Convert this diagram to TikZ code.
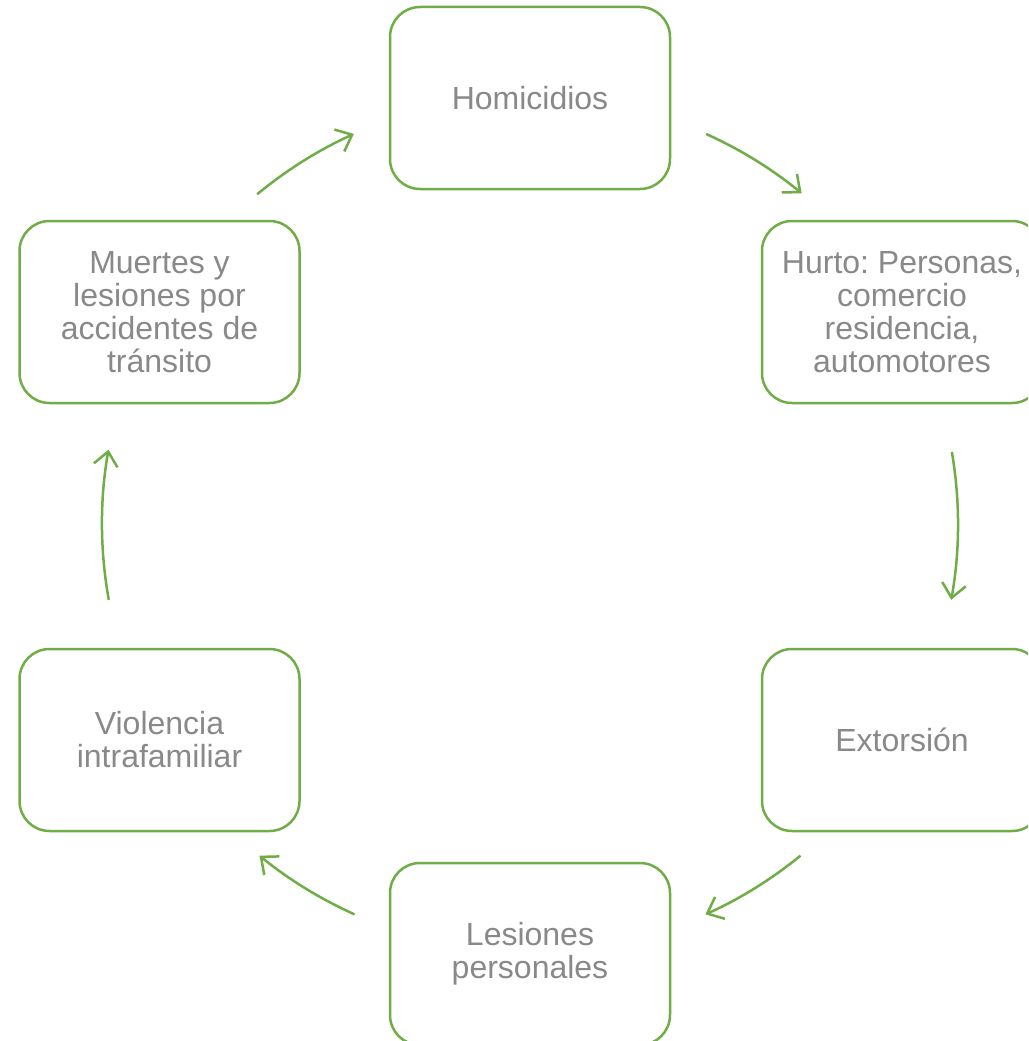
\documentclass[tikz,border=0pt]{standalone}
\usepackage{fontspec}
\setmainfont{Liberation Sans}
\usetikzlibrary{arrows.meta,calc}
\definecolor{boxgreen}{HTML}{70AD47}
\definecolor{txtgray}{HTML}{898989}
\frenchspacing
\begin{document}
\begin{tikzpicture}[x=1pt,y=-1pt,
  cbox/.style={draw=boxgreen, line width=2.5pt, rounded corners=30pt, fill=white,
    minimum width=280pt, minimum height=182pt, inner sep=0pt, align=center,
    text=txtgray, font=\fontsize{32}{33}\selectfont},
  arr/.style={draw=boxgreen, line width=2.5pt, -{Straight Barb[length=14pt,width=24pt,line width=2.5pt]}}]
\useasboundingbox (0,0) rectangle (1028,1041);
\clip (0,0) rectangle (1028,1041);
\fill[white] (0,0) rectangle (1028,1041);
\node[cbox] (hom) at (530,98) {Homicidios};
\node[cbox] (hur) at (902,312) {Hurto: Personas,\\comercio\\residencia,\\automotores};
\node[cbox] (ext) at (902,740) {Extorsión};
\node[cbox] (les) at (530,954) {Lesiones\\personales};
\node[cbox] (vio) at (159.5,740) {Violencia\\intrafamiliar};
\node[cbox] (mue) at (159.5,312) {Muertes y\\lesiones por\\accidentes de\\tránsito};
\coordinate (c) at (530,524);
\coordinate (s1) at ($(c)+(-129.6:428)$);
\coordinate (s2) at ($(c)+(-65.7:428)$);
\coordinate (s3) at ($(c)+(-9.7:428)$);
\coordinate (s4) at ($(c)+(50.8:428)$);
\coordinate (s5) at ($(c)+(114.2:428)$);
\coordinate (s6) at ($(c)+(-190.2:428)$);
\draw[arr] (s1) arc[start angle=-129.6, end angle=-114.3, radius=428];
\draw[arr] (s2) arc[start angle=-65.7, end angle=-50.6, radius=428];
\draw[arr] (s3) arc[start angle=-9.7, end angle=10.2, radius=428];
\draw[arr] (s4) arc[start angle=50.8, end angle=65.8, radius=428];
\draw[arr] (s5) arc[start angle=114.2, end angle=129.2, radius=428];
\draw[arr] (s6) arc[start angle=-190.2, end angle=-170, radius=428];
\end{tikzpicture}
\end{document}
